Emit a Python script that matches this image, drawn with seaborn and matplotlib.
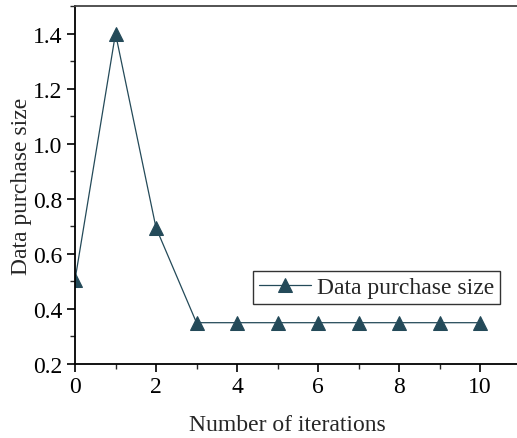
import matplotlib
matplotlib.use("Agg")
import matplotlib.pyplot as plt
from matplotlib.ticker import MultipleLocator
import seaborn as sns
import pandas as pd

iterations = [0, 1, 2, 3, 4, 5, 6, 7, 8, 9, 10]
purchase_size = [0.505, 1.40, 0.695, 0.35, 0.35, 0.35, 0.35, 0.35, 0.35, 0.35, 0.35]
series_name = "Data purchase size"

df = pd.DataFrame({"iter": iterations, "size": purchase_size})

sns.set_style("ticks")
plt.rcParams["font.family"] = ["Liberation Serif", "DejaVu Serif"]

color = "#244a59"
fs = 17

fig = plt.figure(figsize=(5.17, 4.39), dpi=100)
ax = fig.add_axes([75 / 517, 1 - 365 / 439, 1 - 75 / 517, (365 - 7) / 439])

sns.lineplot(data=df, x="iter", y="size", ax=ax, color=color, linewidth=0.9,
             marker="^", markersize=9.5, markeredgecolor=color, label=series_name)

ax.set_xlim(0, (517 - 75) / 40.5)
ax.set_ylim(0.2, 1.5)
ax.xaxis.set_major_locator(MultipleLocator(2))
ax.xaxis.set_minor_locator(MultipleLocator(1))
ax.yaxis.set_minor_locator(MultipleLocator(0.1))
ax.set_yticks([0.2, 0.4, 0.6, 0.8, 1.0, 1.2, 1.4])
ax.set_yticklabels(["0.2", "0.4", "0.6", "0.8", "1.0", "1.2", "1.4"])

ax.tick_params(which="major", direction="out", length=6, width=1.2, labelsize=fs,
               colors="black", pad=3)
ax.tick_params(which="minor", direction="out", length=3.5, width=1.0)

ax.spines["right"].set_visible(False)
ax.spines["top"].set_color("#444444")
for s in ["left", "bottom", "top"]:
    ax.spines[s].set_linewidth(1.3)
ax.spines["left"].set_color("black")
ax.spines["bottom"].set_color("black")

ax.set_xlabel("Number of iterations", fontsize=fs, labelpad=12)
ax.xaxis.label.set_x(0.481)
ax.set_ylabel("Data purchase size", fontsize=fs, labelpad=1)

leg = ax.legend(loc="upper right", bbox_to_anchor=(500 / 517, 1 - 272 / 439),
                bbox_transform=fig.transFigure, borderaxespad=0, fontsize=fs,
                frameon=True, fancybox=False, handlelength=2.2, handletextpad=0.25,
                borderpad=0.25)
leg.get_frame().set_edgecolor("black")
leg.get_frame().set_linewidth(1.0)

fig.savefig("out.png", dpi=100)
